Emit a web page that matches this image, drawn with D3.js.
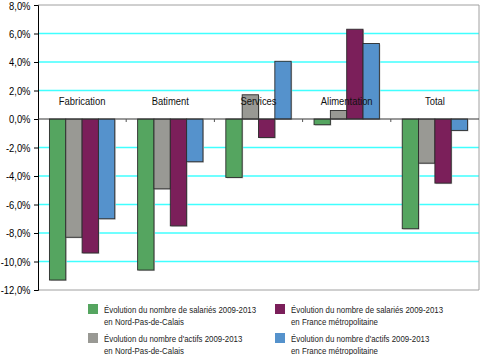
<!DOCTYPE html>
<html><head><meta charset="utf-8">
<script src="https://cdn.jsdelivr.net/npm/d3@7"></script>
<style>body{margin:0;background:#fff}svg{display:block}text{font-family:"Liberation Sans",Arial,Helvetica,sans-serif}</style>
</head><body><svg id="c" width="480" height="355"></svg>
<script>
const categories = ["Fabrication","Batiment","Services","Alimentation","Total"];
const seriesNames = [
  ["Évolution du nombre de salariés 2009-2013","en Nord-Pas-de-Calais"],
  ["Évolution du nombre d'actifs 2009-2013","en Nord-Pas-de-Calais"],
  ["Évolution du nombre de salariés 2009-2013","en France métropolitaine"],
  ["Évolution du nombre d'actifs 2009-2013","en France métropolitaine"]
];
const salariesNPDC = [-11.3, -10.6, -4.1, -0.4, -7.7];
const actifsNPDC   = [-8.3, -4.9, 1.7, 0.6, -3.1];
const salariesFM   = [-9.4, -7.5, -1.3, 6.3, -4.5];
const actifsFM     = [-7.0, -3.0, 4.05, 5.3, -0.8];
const yTicks = [8,6,4,2,0,-2,-4,-6,-8,-10,-12];
const colors = ["#55a560","#999994","#7b1f5a","#5592cc"];
const series = [salariesNPDC, actifsNPDC, salariesFM, actifsFM];
const NARROW = 0.82;

const svg = d3.select("#c");
const L = 38, R = 479, T = 5, B = 290;
const y = d3.scaleLinear().domain([-12, 8]).range([B, T]);
const x0 = d3.scaleBand().domain(categories).range([L, R]).paddingInner(0).paddingOuter(0);
const x1 = d3.scaleBand().domain(d3.range(4)).range([0, x0.bandwidth()]).paddingOuter(0.7).paddingInner(0);

// grid
svg.append("g").selectAll("line").data(yTicks.filter(d => d !== 0 && d !== -12 && d !== 8)).join("line")
  .attr("x1", L).attr("x2", R).attr("y1", d => y(d)).attr("y2", d => y(d))
  .attr("stroke", "#40ffff").attr("stroke-width", 1.5);
// frame
svg.append("path").attr("d", `M${L},${T}H${R}V${B}H${L}`).attr("fill", "none").attr("stroke", "#a0a0a0").attr("stroke-width", 1);

// y axis
const yAxis = d3.axisLeft(y).tickValues(yTicks).tickSize(4).tickFormat(d => d3.format(".1f")(d).replace(".", ",").replace("−","-") + "%");
const ga = svg.append("g").attr("transform", `translate(${L},0)`).call(yAxis);
ga.select(".domain").attr("stroke", "#000");
ga.selectAll(".tick line").attr("stroke", "#000");
ga.selectAll(".tick text").attr("font-size", 11.5).attr("fill", "#000").attr("x", 0)
  .attr("transform", d => `translate(-7.5,${d === 8 ? 1 : 0}) scale(${NARROW},1)`);

// bars
const groups = svg.append("g").selectAll("g").data(categories).join("g")
  .attr("transform", d => `translate(${x0(d)},0)`);
groups.selectAll("rect.sh").data((c, i) => series.map((s, k) => ({k, v: s[i]}))).join("rect")
  .attr("class","sh")
  .attr("x", d => x1(d.k) + 1).attr("width", x1.bandwidth())
  .attr("y", d => Math.min(y(d.v), y(0)) + 1).attr("height", d => Math.abs(y(d.v) - y(0)))
  .attr("fill", "#c8c8c8");
groups.selectAll("rect.b").data((c, i) => series.map((s, k) => ({k, v: s[i]}))).join("rect")
  .attr("class","b")
  .attr("x", d => x1(d.k)).attr("width", x1.bandwidth())
  .attr("y", d => Math.min(y(d.v), y(0))).attr("height", d => Math.abs(y(d.v) - y(0)))
  .attr("fill", d => colors[d.k]).attr("stroke", "#2b2b2b").attr("stroke-width", 0.9);

// zero axis
svg.append("line").attr("x1", L).attr("x2", R).attr("y1", y(0)).attr("y2", y(0)).attr("stroke", "#333").attr("stroke-width", 1);
svg.append("g").selectAll("line").data(categories.slice(1)).join("line")
  .attr("x1", d => x0(d)).attr("x2", d => x0(d)).attr("y1", y(0)).attr("y2", y(0) + 3)
  .attr("stroke", "#555").attr("stroke-width", 1);

// category labels
svg.append("g").selectAll("text").data(categories).join("text")
  .attr("transform", d => `translate(${x0(d) + x0.bandwidth() / 2},${y(0.95)}) scale(${NARROW},1)`)
  .attr("text-anchor", "middle").attr("font-size", 11.5).attr("fill", "#111").text(d => d);

// legend
const legPos = [[88, 304], [88, 333], [275, 304], [275, 333]];
const lg = svg.append("g").selectAll("g").data(seriesNames).join("g")
  .attr("transform", (d, i) => `translate(${legPos[i][0]},${legPos[i][1]})`);
lg.append("rect").attr("width", 10).attr("height", 10).attr("fill", (d, i) => colors[i]);
lg.append("text").attr("transform", `translate(16,9) scale(${NARROW},1)`).attr("font-size", 9.6).attr("fill", "#222").text(d => d[0]);
lg.append("text").attr("transform", `translate(16,20.5) scale(${NARROW},1)`).attr("font-size", 9.6).attr("fill", "#222").text(d => d[1]);
</script></body></html>
